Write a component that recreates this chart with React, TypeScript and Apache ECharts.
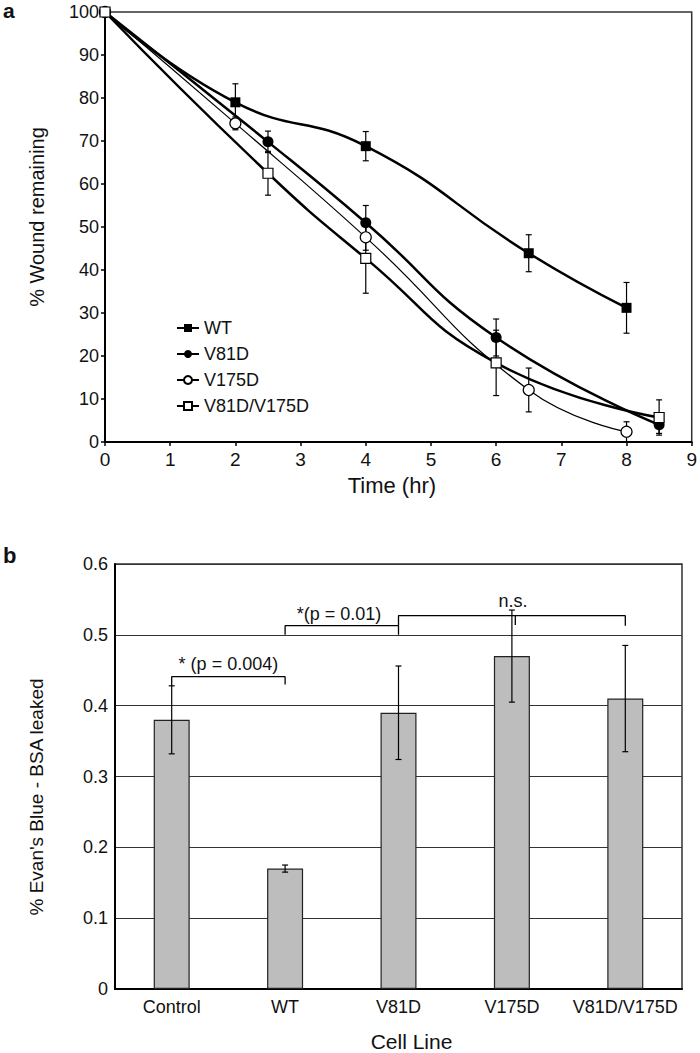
import React, { useEffect, useRef } from "react";
import * as echarts from "echarts";

const FONT = "'Liberation Sans', Arial, sans-serif";
const INK = "#111";

// Panel a: wound healing time course
const wtTime = [0, 2, 4, 6.5, 8];
const wtValue = [100, 79, 68.8, 43.9, 31.2];
const wtError = [0, 4.3, 3.4, 4.3, 5.9];

const v81dTime = [0, 2.5, 4, 6, 8.5];
const v81dValue = [100, 69.8, 51, 24.3, 4];
const v81dError = [0, 2.5, 4, 4.3, 2];

const v175dTime = [0, 2, 4, 6.5, 8];
const v175dValue = [100, 74.1, 47.6, 12.1, 2.4];
const v175dError = [0, 1.5, 3, 5.1, 2.3];

const dblTime = [0, 2.5, 4, 6, 8.5];
const dblValue = [100, 62.5, 42.7, 18.4, 5.7];
const dblError = [0, 5.1, 8.1, 7.6, 4.1];

const seriesNames = ["WT", "V81D", "V175D", "V81D/V175D"];

// Panel b: Evan's Blue - BSA leak
const cellLines = ["Control", "WT", "V81D", "V175D", "V81D/V175D"];
const leakValue = [0.38, 0.17, 0.39, 0.47, 0.41];
const leakError = [0.048, 0.005, 0.066, 0.065, 0.075];

// significance brackets (x in category units 0..5, y in data units)
const bracketP004 = [[0.5, 0.428], [0.5, 0.441], [1.5, 0.441], [1.5, 0.43]];
const bracketP01 = [[1.5, 0.5], [1.5, 0.513], [2.5, 0.513]];
const bracketNS = [[2.5, 0.5], [2.5, 0.527], [4.5, 0.527], [4.5, 0.513]];
const bracketNSTick = [[3.53, 0.527], [3.53, 0.514]];
const annotationText = ["* (p = 0.004)", "*(p = 0.01)", "n.s."];
const annotationX = [1.0, 1.975, 3.51];
const annotationY = [0.458, 0.529, 0.547];

const pairs = (xs: number[], ys: number[]) => xs.map((x, i) => [x, ys[i]]);
const errRows = (xs: number[], ys: number[], es: number[]) =>
  xs
    .map((x, i) => [x, ys[i] - es[i], ys[i] + es[i]])
    .filter((_, i) => es[i] > 0);

const errorRender = (capHalf: number) => (params: any, api: any) => {
  const x = api.value(0);
  const lo = api.coord([x, api.value(1)]);
  const hi = api.coord([x, api.value(2)]);
  const style = { stroke: "#000", lineWidth: 1.2 };
  return {
    type: "group",
    children: [
      { type: "line", shape: { x1: lo[0], y1: lo[1], x2: hi[0], y2: hi[1] }, style },
      { type: "line", shape: { x1: lo[0] - capHalf, y1: lo[1], x2: lo[0] + capHalf, y2: lo[1] }, style },
      { type: "line", shape: { x1: hi[0] - capHalf, y1: hi[1], x2: hi[0] + capHalf, y2: hi[1] }, style },
    ],
  };
};

export default function App() {
  const ref = useRef<HTMLDivElement>(null);

  useEffect(() => {
    if (!ref.current) return;
    const chart = echarts.init(ref.current, undefined, { renderer: "svg" });

    const lineSeries = (
      name: string,
      xs: number[],
      ys: number[],
      symbol: string,
      size: number,
      filled: boolean,
      width: number
    ) => ({
      type: "line",
      name,
      xAxisIndex: 0,
      yAxisIndex: 0,
      data: pairs(xs, ys),
      smooth: 0.5,
      symbol,
      symbolSize: size,
      showAllSymbol: true,
      itemStyle: filled
        ? { color: "#000", borderColor: "#000", borderWidth: 0 }
        : { color: "#fff", borderColor: "#000", borderWidth: 1.2 },
      lineStyle: { color: "#000", width },
      z: 4,
    });

    const bracket = (data: number[][]) => ({
      type: "line",
      xAxisIndex: 2,
      yAxisIndex: 1,
      data,
      symbol: "none",
      silent: true,
      lineStyle: { color: "#000", width: 1.3 },
      z: 5,
    });

    chart.setOption({
      animation: false,
      textStyle: { fontFamily: FONT, color: INK },
      grid: [
        { left: 105, top: 12, width: 588, height: 430, show: true, borderColor: "#333", borderWidth: 1.5 },
        { left: 115, top: 564, width: 567, height: 425, show: true, borderColor: "#333", borderWidth: 1.5 },
      ],
      legend: {
        data: seriesNames,
        orient: "vertical",
        left: 176,
        top: 319,
        padding: 0,
        itemWidth: 22,
        itemHeight: 10,
        itemGap: 8,
        selectedMode: false,
        textStyle: { fontSize: 18, lineHeight: 18, color: INK, fontFamily: FONT },
      },
      xAxis: [
        {
          type: "value",
          gridIndex: 0,
          min: 0,
          max: 9,
          interval: 1,
          axisLine: { show: true, lineStyle: { color: "#000", width: 2 } },
          axisTick: { show: true, length: 4, lineStyle: { color: "#000", width: 1.5 } },
          axisLabel: { fontSize: 19, margin: 8, color: INK, fontFamily: FONT },
          splitLine: { show: false },
          name: "Time (hr)",
          nameLocation: "middle",
          nameGap: 32,
          nameTextStyle: { fontSize: 22, color: INK, fontFamily: FONT, padding: [0, 13, 0, 0] },
        },
        {
          type: "category",
          gridIndex: 1,
          data: cellLines,
          axisLine: { show: true, lineStyle: { color: "#000", width: 2 } },
          axisTick: { show: false },
          axisLabel: { interval: 0, fontSize: 18, margin: 9, color: INK, fontFamily: FONT },
          name: "Cell Line",
          nameLocation: "middle",
          nameGap: 42,
          nameTextStyle: { fontSize: 21, color: INK, fontFamily: FONT, padding: [0, 0, 0, 26] },
        },
        { type: "value", gridIndex: 1, min: 0, max: 5, show: false },
      ],
      yAxis: [
        {
          type: "value",
          gridIndex: 0,
          min: 0,
          max: 100,
          interval: 10,
          axisLine: { show: true, lineStyle: { color: "#000", width: 2 } },
          axisTick: { show: true, length: 4, lineStyle: { color: "#000", width: 1.5 } },
          axisLabel: { fontSize: 18, margin: 6, color: INK, fontFamily: FONT },
          splitLine: { show: false },
          name: "% Wound remaining",
          nameLocation: "middle",
          nameGap: 58,
          nameTextStyle: { fontSize: 20, color: INK, fontFamily: FONT, padding: [0, 0, 0, 20] },
        },
        {
          type: "value",
          gridIndex: 1,
          min: 0,
          max: 0.6,
          interval: 0.1,
          axisLine: { show: true, lineStyle: { color: "#000", width: 2 } },
          axisTick: { show: false },
          axisLabel: {
            fontSize: 18,
            margin: 7,
            color: INK,
            fontFamily: FONT,
            formatter: (v: number) => (v === 0 ? "0" : v.toFixed(1)),
          },
          splitLine: { show: true, lineStyle: { color: "#333", width: 1 } },
          name: "% Evan's Blue - BSA leaked",
          nameLocation: "middle",
          nameGap: 69,
          nameTextStyle: { fontSize: 19, color: INK, fontFamily: FONT, padding: [0, 41, 0, 0] },
        },
      ],
      graphic: [
        { type: "text", left: 3, top: 0, style: { text: "a", fontSize: 21, fontWeight: "bold", fill: INK, fontFamily: FONT } },
        { type: "text", left: 3, top: 544, style: { text: "b", fontSize: 22, fontWeight: "bold", fill: INK, fontFamily: FONT } },
      ],
      series: [
        {
          type: "custom",
          xAxisIndex: 0,
          yAxisIndex: 0,
          renderItem: errorRender(3),
          data: [
            ...errRows(wtTime, wtValue, wtError),
            ...errRows(v81dTime, v81dValue, v81dError),
            ...errRows(v175dTime, v175dValue, v175dError),
            ...errRows(dblTime, dblValue, dblError),
          ],
          silent: true,
          z: 3,
        },
        lineSeries("WT", wtTime, wtValue, "rect", 10, true, 2.5),
        lineSeries("V81D", v81dTime, v81dValue, "circle", 11, true, 2.5),
        lineSeries("V175D", v175dTime, v175dValue, "circle", 11, false, 1.2),
        lineSeries("V81D/V175D", dblTime, dblValue, "rect", 10, false, 2.5),
        {
          type: "bar",
          xAxisIndex: 1,
          yAxisIndex: 1,
          data: leakValue,
          barWidth: 36,
          itemStyle: { color: "#bdbdbd", borderColor: "#222", borderWidth: 1.2 },
          z: 2,
        },
        {
          type: "custom",
          xAxisIndex: 1,
          yAxisIndex: 1,
          renderItem: errorRender(3),
          data: leakValue.map((v, i) => [i, v - leakError[i], v + leakError[i]]),
          silent: true,
          z: 4,
        },
        bracket(bracketP004),
        bracket(bracketP01),
        bracket(bracketNS),
        bracket(bracketNSTick),
        {
          type: "scatter",
          xAxisIndex: 2,
          yAxisIndex: 1,
          symbolSize: 1,
          silent: true,
          itemStyle: { opacity: 0 },
          data: annotationText.map((t, i) => ({ name: t, value: [annotationX[i], annotationY[i]] })),
          label: {
            show: true,
            position: "top",
            distance: 0,
            verticalAlign: "middle",
            formatter: "{b}",
            fontSize: 18,
            color: INK,
            opacity: 1,
            fontFamily: FONT,
            textBorderWidth: 0,
          },
          z: 6,
        },
      ],
    });

    return () => chart.dispose();
  }, []);

  return (
    <div
      ref={ref}
      style={{ position: "absolute", left: 0, top: 0, width: 700, height: 1053, background: "#fff" }}
    />
  );
}
